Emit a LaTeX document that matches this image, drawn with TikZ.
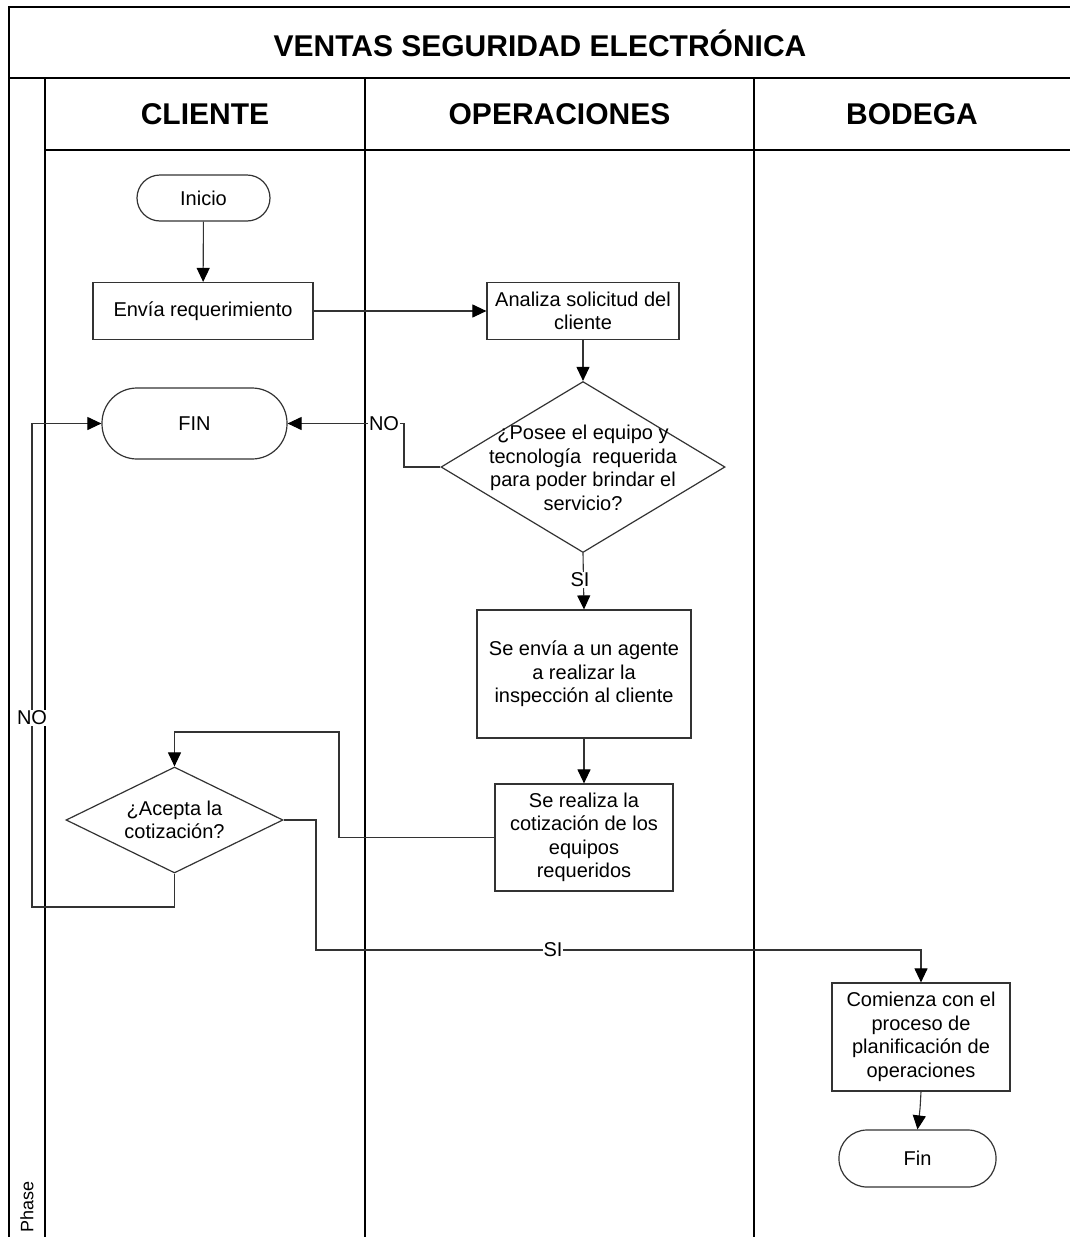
\documentclass[tikz,border=0pt]{standalone}
\usepackage{fontspec}
\setmainfont{Liberation Sans}
\usetikzlibrary{arrows.meta,shapes.geometric}
\newcommand\bdfont{\fontsize{20}{23.5}\selectfont}
\newcommand\hdfont{\fontsize{30}{34}\selectfont\bfseries}

\begin{document}
\begin{tikzpicture}[x=1pt,y=-1pt,
  lane/.style={line width=2pt, draw=black},
  conn/.style={line width=1.1pt, draw=black!80, -{Triangle[length=14pt,width=13pt,color=black]}},
  proc/.style={draw=black!80, line width=1.2pt, rectangle, inner sep=0pt, align=center, font=\bdfont},
  term/.style={draw=black!80, line width=1.2pt, rectangle, inner sep=0pt, align=center, font=\bdfont},
  dec/.style={draw=black!80, line width=1.2pt, diamond, inner sep=0pt},
  dectext/.style={align=center, font=\bdfont, inner sep=0pt},
  lbl/.style={fill=white, inner sep=1pt, font=\bdfont},
  head/.style={font=\hdfont, inner sep=0pt}
]
\useasboundingbox (0,0) rectangle (1070,1237);
\fill[white] (0,0) rectangle (1070,1237);

% swimlane frame
\draw[lane] (1070,7) -- (9,7) -- (9,1240);
\draw[lane] (9,78) -- (1070,78);
\draw[lane] (45,78) -- (45,1240);
\draw[lane] (45,150) -- (1070,150);
\draw[lane] (365,78) -- (365,1240);
\draw[lane] (754,78) -- (754,1240);

% titles
\node[head] (title) at (540,43) {VENTAS SEGURIDAD ELECTRÓNICA};
\node[head] (hcliente) at (205,114) {CLIENTE};
\node[head] (hoper) at (559.5,114) {OPERACIONES};
\node[head] (hbodega) at (912,114) {BODEGA};
\node[rotate=90, inner sep=0pt, font=\fontsize{18}{20}\selectfont] (phase) at (27,1207) {Phase};

% flow nodes
\node[term, minimum width=133pt, minimum height=46pt, rounded corners=23pt] (inicio) at (203.5,198) {Inicio};
\node[proc, minimum width=220pt, minimum height=57pt] (envia) at (203,311) {Envía requerimiento};
\node[proc, minimum width=192pt, minimum height=57pt] (analiza) at (583,311) {Analiza solicitud del\\cliente};
\node[term, minimum width=185pt, minimum height=71pt, rounded corners=35pt] (fin1) at (194.5,423.5) {FIN};
\node[dec, minimum width=284pt, minimum height=171pt] (d1) at (583,467) {};
\node[dectext] (d1t) at (583,468) {¿Posee el equipo y\\tecnología\ \ requerida\\para poder brindar el\\servicio?};
\node[proc, minimum width=214pt, minimum height=128pt] (insp) at (584,674) {Se envía a un agente\\a realizar la\\inspección al cliente};
\node[proc, minimum width=178pt, minimum height=107pt] (cotiza) at (584,837.5) {Se realiza la\\cotización de los\\equipos\\requeridos};
\node[dec, minimum width=217pt, minimum height=106pt] (d2) at (174.5,820) {};
\node[dectext] (d2t) at (174.5,820) {¿Acepta la\\cotización?};
\node[proc, minimum width=178pt, minimum height=108pt] (comienza) at (921,1037) {Comienza con el\\proceso de\\planificación de\\operaciones};
\node[term, minimum width=157pt, minimum height=57pt, rounded corners=28pt] (fin2) at (917.5,1158.5) {Fin};

% connectors
\draw[conn] (inicio) -- (envia);
\draw[conn] (envia) -- (analiza);
\draw[conn] (analiza) -- (d1);
\draw[conn] (d1.west) -| (404,423.5) -- (fin1.east);
\draw[conn] (d1.south) -- (insp.north);
\draw[conn] (insp) -- (cotiza);
\draw[conn] (cotiza.west) -| (339,732) -| (d2.north);
\draw[conn] (d2.south) |- (32,907) |- (fin1.west);
\draw[conn] (d2.east) -| (316,950) -| (comienza.north);
\draw[conn] (comienza.south) .. controls (920,1110) .. (fin2.north);

% branch labels
\node[lbl] (no1) at (384,423.5) {NO};
\node[lbl] (si1) at (580,580) {SI};
\node[lbl] (no2) at (32,718) {NO};
\node[lbl] (si2) at (553,950) {SI};
\end{tikzpicture}
\end{document}
